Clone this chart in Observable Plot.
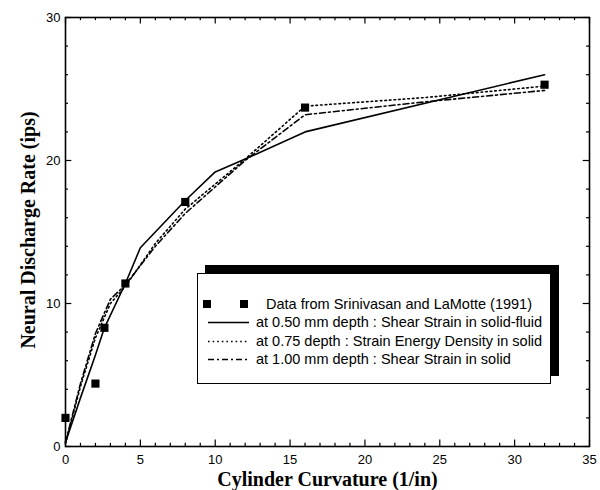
<!DOCTYPE html>
<html><head><meta charset="utf-8">
<script src="https://cdn.jsdelivr.net/npm/d3@7"></script>
<script src="https://cdn.jsdelivr.net/npm/@observablehq/plot@0.6"></script>
<style>
body{margin:0;background:#fff;}
#wrap{position:relative;width:600px;height:490px;}
#legend{position:absolute;left:197px;top:273px;width:352px;height:109px;border:1.5px solid #000;background:#fff;box-shadow:8px -8px 0 0 #000;font-family:"Liberation Sans",Arial,sans-serif;font-size:14.5px;color:#000;}
.row{position:absolute;left:0;height:18px;width:352px;}
.row svg{position:absolute;left:0;top:0;}
.row span{position:absolute;top:0px;white-space:nowrap;line-height:18px;}
</style></head>
<body>
<div id="wrap"></div>
<script>
// Data (Srinivasan and LaMotte, 1991)
const dataX = [0, 2, 2.6, 4, 8, 16, 32];
const dataY = [2.0, 4.4, 8.3, 11.4, 17.1, 23.7, 25.3];
// 0.50 mm depth : Shear Strain in solid-fluid
const shearFluidX = [0, 1, 2, 2.6, 4, 5, 8, 10, 12, 16, 32];
const shearFluidY = [0.3, 3.4, 6.4, 8.3, 11.4, 13.9, 17.2, 19.2, 20.1, 22.0, 26.0];
// 0.75 depth : Strain Energy Density in solid
const sedX = [0, 1, 2, 3, 4, 6, 8, 12, 16, 24, 32];
const sedY = [0.2, 4.2, 7.6, 10.0, 11.2, 14.2, 16.6, 20.1, 23.8, 24.4, 25.2];
// 1.00 mm depth : Shear Strain in solid
const shearSolidX = [0, 1, 2, 3, 4, 6, 8, 12, 16, 24, 32];
const shearSolidY = [0.3, 4.4, 7.9, 10.3, 11.3, 14.0, 16.3, 20.0, 23.2, 24.1, 24.9];

const xTicks = [0, 5, 10, 15, 20, 25, 30, 35];
const xMinor = d3.range(0, 36, 1);
const yTicks = [0, 10, 20, 30];
const yMinor = d3.range(0, 31, 2);

const legendLabels = [
  "Data from Srinivasan and LaMotte (1991)",
  "at 0.50 mm depth : Shear Strain in solid-fluid",
  "at 0.75 depth : Strain Energy Density in solid",
  "at 1.00 mm depth : Shear Strain in solid"
];

const pts = (xs, ys) => xs.map((x, i) => ({x, y: ys[i]}));
const sans = "'Liberation Sans', Arial, sans-serif";
const serif = "'Liberation Serif', 'Times New Roman', serif";

const chart = Plot.plot({
  width: 600, height: 490,
  marginLeft: 65, marginRight: 11, marginTop: 17, marginBottom: 44,
  x: {domain: [0, 35]},
  y: {domain: [0, 30]},
  style: {fontFamily: sans, fontSize: "13px", background: "#fff", color: "#000"},
  marks: [
    Plot.axisX({ticks: xTicks, tickSize: 0, tickPadding: 8, label: null, fontSize: 13}),
    Plot.axisY({ticks: yTicks, tickSize: 0, tickPadding: 5, label: null, fontSize: 13}),
    // inward minor/major ticks on all four sides
    Plot.ruleX(xMinor, {x: d => d, y1: 0, y2: d => d % 5 === 0 ? 0.45 : 0.22, strokeWidth: 1.2}),
    Plot.ruleX(xMinor, {x: d => d, y1: 30, y2: d => d % 5 === 0 ? 29.55 : 29.78, strokeWidth: 1.2}),
    Plot.ruleY(yMinor, {y: d => d, x1: 0, x2: d => d % 10 === 0 ? 0.42 : 0.2, strokeWidth: 1.2}),
    Plot.ruleY(yMinor, {y: d => d, x1: 35, x2: d => d % 10 === 0 ? 34.58 : 34.8, strokeWidth: 1.2}),
    Plot.frame({stroke: "#000", strokeWidth: 1.6}),
    Plot.line(pts(sedX, sedY), {x: "x", y: "y", stroke: "#000", strokeWidth: 1.6, strokeDasharray: "1.6,3"}),
    Plot.line(pts(shearSolidX, shearSolidY), {x: "x", y: "y", stroke: "#000", strokeWidth: 1.6, strokeDasharray: "6,3,2,3"}),
    Plot.line(pts(shearFluidX, shearFluidY), {x: "x", y: "y", stroke: "#000", strokeWidth: 1.6}),
    Plot.dot(pts(dataX, dataY), {x: "x", y: "y", symbol: "square", r: 4.6, fill: "#000", stroke: "none"}),
    Plot.text(["Cylinder Curvature (1/in)"], {frameAnchor: "bottom", textAnchor: "middle", lineAnchor: "middle", dy: 33, fontFamily: serif, fontWeight: "bold", fontSize: 20, fill: "#000"}),
    Plot.text(["Neural Discharge Rate (ips)"], {frameAnchor: "left", textAnchor: "middle", lineAnchor: "middle", rotate: -90, dx: -37, dy: -2, fontFamily: serif, fontWeight: "bold", fontSize: 20, fill: "#000"})
  ]
});
const wrap = document.getElementById("wrap");
wrap.appendChild(chart);

// Legend overlay
const legend = document.createElement("div");
legend.id = "legend";
const rowTops = [21, 39, 58, 76];
const dashes = [null, null, "1.6,3", "6,3,2,3"];
legendLabels.forEach((label, i) => {
  const row = document.createElement("div");
  row.className = "row";
  row.style.top = rowTops[i] + "px";
  const svg = d3.create("svg").attr("width", 60).attr("height", 18);
  if (i === 0) {
    [9, 46].forEach(cx => svg.append("rect").attr("x", cx - 4).attr("y", 5).attr("width", 8).attr("height", 8).attr("fill", "#000"));
  } else {
    svg.append("line").attr("x1", 10).attr("x2", 51).attr("y1", 9.5).attr("y2", 9.5)
      .attr("stroke", "#000").attr("stroke-width", 1.6)
      .attr("stroke-dasharray", dashes[i]);
  }
  row.appendChild(svg.node());
  const span = document.createElement("span");
  span.textContent = label;
  span.style.left = (i === 0 ? 68 : 58) + "px";
  row.appendChild(span);
  legend.appendChild(row);
});
wrap.appendChild(legend);
</script>
</body></html>
